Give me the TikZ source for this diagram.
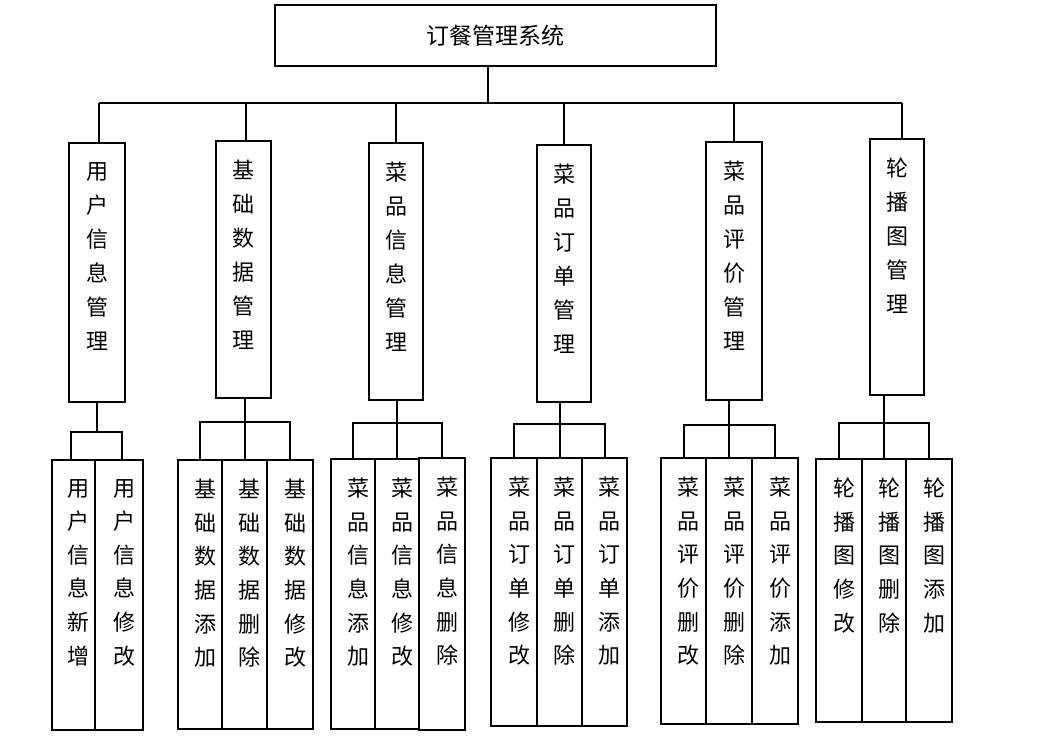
\documentclass[tikz,border=0pt]{standalone}
\usepackage{fontspec}
\newfontfamily\cjk{Noto Sans CJK SC}
\usetikzlibrary{positioning}
\tikzset{
box/.style={
  draw,
  rectangle,
  line width=2pt,
  inner sep=0pt, outer sep=0pt,
  anchor=north
  },
vtext/.style={align=center, inner sep=0pt, font=\cjk\fontsize{22}{34}\selectfont},
vsub/.style={align=center, inner sep=0pt, xshift=5pt, font=\cjk\fontsize{22}{33.6}\selectfont},
line/.style={line width=2pt}
}
\begin{document}
\begin{tikzpicture}[x=1pt, y=-1pt]
\useasboundingbox (0,0) rectangle (1055,741);

% top
\node[box, minimum width=441pt, minimum height=61pt, font=\cjk\fontsize{23}{23}\selectfont] (sys) at (495.5,5) {订餐管理系统};

% modules
\node[box, minimum width=56pt, minimum height=259pt]	(user)		at (97,143)		{};
\node[box, minimum width=55pt, minimum height=257pt]	(basic)		at (243.5,141)	{};
\node[box, minimum width=54pt, minimum height=257pt]	(dish)		at (396,143)	{};
\node[box, minimum width=54pt, minimum height=257pt]	(order)		at (564,145)	{};
\node[box, minimum width=56pt, minimum height=258pt]	(review)	at (734,142)	{};
\node[box, minimum width=54pt, minimum height=256pt]	(banner)	at (897,139)	{};

\node[vtext, below=19pt of user.north]		(usert)		{用\\户\\信\\息\\管\\理};
\node[vtext, below=19pt of basic.north]		(basict)	{基\\础\\数\\据\\管\\理};
\node[vtext, below=19pt of dish.north]		(disht)		{菜\\品\\信\\息\\管\\理};
\node[vtext, below=19pt of order.north]		(ordert)	{菜\\品\\订\\单\\管\\理};
\node[vtext, below=19pt of review.north]	(reviewt)	{菜\\品\\评\\价\\管\\理};
\node[vtext, below=19pt of banner.north]	(bannert)	{轮\\播\\图\\管\\理};

% functions
\node[box, minimum width=43pt, minimum height=270pt]	(ua)	at (73.5,460)			{};
\node[box, minimum width=48pt, minimum height=270pt]	(ub)	[right=0pt of ua]		{};
\node[box, minimum width=44pt, minimum height=269pt]	(ba)	at (200,460)			{};
\node[box, minimum width=45pt, minimum height=269pt]	(bb)	[right=0pt of ba]		{};
\node[box, minimum width=46pt, minimum height=269pt]	(bc)	[right=0pt of bb]		{};
\node[box, minimum width=44pt, minimum height=270pt]	(da)	at (353,459)			{};
\node[box, minimum width=44pt, minimum height=270pt]	(db)	[right=0pt of da]		{};
\node[box, minimum width=46pt, minimum height=272pt]	(dc)	[right=0pt of db]		{};
\node[box, minimum width=46pt, minimum height=268pt]	(oa)	at (514,458)			{};
\node[box, minimum width=45pt, minimum height=268pt]	(ob)	[right=0pt of oa]		{};
\node[box, minimum width=45pt, minimum height=268pt]	(oc)	[right=0pt of ob]		{};
\node[box, minimum width=45pt, minimum height=266pt]	(ra)	at (683.5,458)			{};
\node[box, minimum width=46pt, minimum height=266pt]	(rb)	[right=0pt of ra]		{};
\node[box, minimum width=46pt, minimum height=266pt]	(rc)	[right=0pt of rb]		{};
\node[box, minimum width=46pt, minimum height=263pt]	(pa)	at (839,459)			{};
\node[box, minimum width=44pt, minimum height=263pt]	(pb)	[right=0pt of pa]		{};
\node[box, minimum width=46pt, minimum height=263pt]	(pc)	[right=0pt of pb]		{};

\node[vsub, below=19pt of ua.north]	(uat)	{用\\户\\信\\息\\新\\增};
\node[vsub, below=19pt of ub.north]	(ubt)	{用\\户\\信\\息\\修\\改};
\node[vsub, below=19pt of ba.north]	(bat)	{基\\础\\数\\据\\添\\加};
\node[vsub, below=19pt of bb.north]	(bbt)	{基\\础\\数\\据\\删\\除};
\node[vsub, below=19pt of bc.north]	(bct)	{基\\础\\数\\据\\修\\改};
\node[vsub, below=19pt of da.north]	(dat)	{菜\\品\\信\\息\\添\\加};
\node[vsub, below=19pt of db.north]	(dbt)	{菜\\品\\信\\息\\修\\改};
\node[vsub, below=19pt of dc.north]	(dct)	{菜\\品\\信\\息\\删\\除};
\node[vsub, below=19pt of oa.north]	(oat)	{菜\\品\\订\\单\\修\\改};
\node[vsub, below=19pt of ob.north]	(obt)	{菜\\品\\订\\单\\删\\除};
\node[vsub, below=19pt of oc.north]	(oct)	{菜\\品\\订\\单\\添\\加};
\node[vsub, below=19pt of ra.north]	(rat)	{菜\\品\\评\\价\\删\\改};
\node[vsub, below=19pt of rb.north]	(rbt)	{菜\\品\\评\\价\\删\\除};
\node[vsub, below=19pt of rc.north]	(rct)	{菜\\品\\评\\价\\添\\加};
\node[vsub, below=19pt of pa.north]	(pat)	{轮\\播\\图\\修\\改};
\node[vsub, below=19pt of pb.north]	(pbt)	{轮\\播\\图\\删\\除};
\node[vsub, below=19pt of pc.north]	(pct)	{轮\\播\\图\\添\\加};

% top connectors
\coordinate (bar) at (488,103);
\draw[line]	(sys.south -| bar)	--	(bar);
\draw[line]	([xshift=2pt]user.north |- bar)	--	([xshift=5pt]banner.north |- bar);
\draw[line]	([xshift=2pt]user.north)		--	([xshift=2pt]user.north |- bar);
\draw[line]	([xshift=2pt]basic.north)		--	([xshift=2pt]basic.north |- bar);
\draw[line]	(dish.north)		--	(dish.north |- bar);
\draw[line]	(order.north)		--	(order.north |- bar);
\draw[line]	(review.north)		--	(review.north |- bar);
\draw[line]	([xshift=5pt]banner.north)		--	([xshift=5pt]banner.north |- bar);

% sub connectors
\coordinate (userbar)	at ([yshift=-30pt]user.south);
\coordinate (basicbar)	at ([yshift=-24pt]basic.south);
\coordinate (dishbar)	at ([yshift=-23pt]dish.south);
\coordinate (orderbar)	at ([yshift=-22pt]order.south);
\coordinate (reviewbar)	at ([yshift=-25pt]review.south);
\coordinate (bannerbar)	at ([yshift=-28pt]banner.south);

\draw[line]	(user.south)	--	(userbar);
\draw[line]	([xshift=-3pt]ua.north)		|-	(userbar)	-|	([xshift=3pt]ub.north);
\draw[line]	(ba.north)		|-	(basicbar)	-|	(bc.north);
\draw[line]	(bb.north |- basic.south)	--	(bb.north);
\draw[line]	(da.north)		|-	(dishbar)	-|	(dc.north);
\draw[line]	(db.north |- dish.south)	--	(db.north);
\draw[line]	(oa.north)		|-	(orderbar)	-|	(oc.north);
\draw[line]	(ob.north |- order.south)	--	(ob.north);
\draw[line]	(ra.north)		|-	(reviewbar)	-|	(rc.north);
\draw[line]	(rb.north |- review.south)	--	(rb.north);
\draw[line]	(pa.north)		|-	(bannerbar)	-|	(pc.north);
\draw[line]	(pb.north |- banner.south)	--	(pb.north);
\end{tikzpicture}
\end{document}
